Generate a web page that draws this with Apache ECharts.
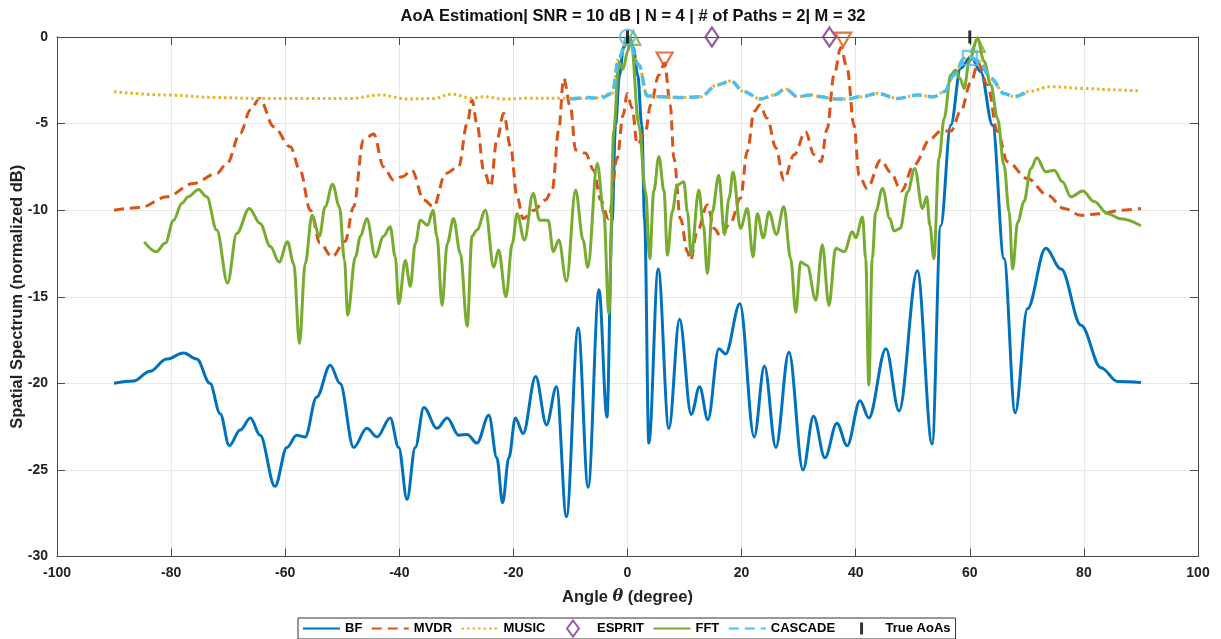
<!DOCTYPE html>
<html>
<head>
<meta charset="utf-8">
<script src="https://cdn.jsdelivr.net/npm/echarts@6/dist/echarts.min.js"></script>
<style>
html,body{margin:0;padding:0;background:#fff;}
#chart{width:1221px;height:639px;}
</style>
</head>
<body>
<div id="chart"></div>
<script>
// ---------- data ----------
const titleText = 'AoA Estimation| SNR = 10 dB | N = 4 | # of Paths = 2| M = 32';
const xTicks = [-100, -80, -60, -40, -20, 0, 20, 40, 60, 80, 100];
const yTicks = [-30, -25, -20, -15, -10, -5, 0];
const legendNames = ['BF', 'MVDR', 'MUSIC', 'ESPRIT', 'FFT', 'CASCADE', 'True AoAs'];

const bfAngle = [-90,-86.6,-83.7,-80.8,-77.8,-75.5,-73.2,-71.4,-69.8,-67.9,-66.1,-64.4,-61.8,-59.7,-58.0,-56.5,-54.5,-52.1,-50.4,-48.0,-45.7,-43.9,-41.6,-40.1,-38.65,-37.2,-35.7,-33.4,-31.6,-29.6,-28.1,-26.4,-24.3,-22.9,-21.9,-20.8,-19.65,-18.3,-16.1,-14.2,-12.45,-10.7,-8.65,-6.9,-5.0,-3.6,-2.7,-2.1,-1.4,-0.7,0.2,1.0,1.8,2.5,3.0,3.74,5.38,7.25,9.12,11.17,12.63,14.1,16.0,17.2,19.7,22.2,24.0,26.0,28.3,30.76,32.6,34.6,36.7,38.5,40.76,42.3,45.3,47.6,50.8,53.4,54.9,56.66,58.4,60.2,61.9,64.0,66.0,67.95,70.1,73.3,76.0,79.5,83.0,85.9,90];
const bfValue = [-20.0,-19.87,-19.3,-18.6,-18.25,-18.6,-20.0,-21.75,-23.6,-22.7,-22.0,-23.0,-25.95,-23.7,-23.0,-23.1,-20.8,-18.96,-20.0,-23.7,-22.6,-23.1,-22.0,-23.7,-26.7,-23.7,-21.4,-22.6,-22.0,-23.0,-22.95,-23.45,-21.85,-24.3,-26.9,-24.3,-22.0,-22.9,-19.6,-22.4,-20.2,-27.7,-16.8,-26.0,-14.6,-21.95,-10.6,-5.1,-2.2,-0.6,0,-0.6,-2.2,-5.1,-10.6,-23.45,-13.4,-22.6,-16.3,-21.8,-20.2,-22.1,-18.0,-18.3,-15.4,-23.1,-19.0,-23.7,-18.2,-25.0,-21.9,-24.3,-22.3,-23.6,-21.0,-22.0,-18.0,-21.6,-13.5,-23.5,-10.9,-5.1,-1.8,-1.14,-2.0,-5.1,-12.8,-21.7,-15.7,-12.2,-13.4,-16.65,-19.1,-19.9,-19.95];

const mvdrAngle = [-90,-85.4,-80.8,-76.1,-72.0,-70.2,-67.9,-66.1,-64.5,-62.0,-59.1,-57.4,-55.6,-53.9,-51.8,-49.5,-48.0,-46.3,-44.5,-42.75,-41.0,-39.5,-37.8,-35.7,-34.0,-31.9,-29.6,-28.1,-27.25,-26.4,-25.2,-24.0,-22.9,-21.7,-20.5,-19.35,-18.3,-16.4,-14.4,-13.2,-12.05,-11.2,-10.0,-9.1,-7.4,-5.9,-4.74,-3.3,-1.82,-0.76,-0.06,0.81,1.7,3.15,4.03,5.5,6.5,7.5,8.13,9.3,10.5,11.05,12.2,14.0,15.2,16.3,18.1,19.8,21.0,22.2,23.2,24.5,26.0,27.4,29.2,31.2,32.7,33.9,35.0,36.2,37.4,38.5,39.7,40.6,42.0,44.4,46.1,48.0,50.2,53.15,54.9,56.7,58.4,60.2,61.45,63.1,64.85,66.6,70.1,73.6,76.5,79.5,83.0,86.5,90];
const mvdrValue = [-10.0,-9.85,-9.23,-8.46,-7.88,-7.3,-5.57,-4.22,-3.55,-5.18,-6.34,-7.7,-10.0,-11.9,-12.7,-11.8,-9.8,-5.95,-5.6,-7.5,-8.27,-8.07,-7.69,-9.42,-9.8,-7.88,-7.5,-4.99,-3.64,-4.99,-7.69,-8.65,-5.95,-4.41,-6.34,-9.23,-10.48,-10.0,-9.42,-8.84,-5.37,-2.39,-4.03,-6.53,-6.7,-7.7,-9.4,-10.5,-7.0,-4.5,-3.26,-4.1,-6.2,-5.5,-3.93,-2.2,-1.5,-3.93,-7.0,-10.5,-12.4,-12.9,-11.25,-9.7,-11.06,-11.5,-10.7,-9.3,-6.6,-4.3,-3.93,-4.7,-6.4,-8.27,-6.8,-5.47,-6.8,-7.2,-5.3,-2.2,-0.6,-1.81,-5.1,-8.0,-8.75,-7.1,-7.8,-8.9,-7.4,-5.86,-5.43,-5.43,-4.3,-2.6,-1.5,-2.77,-5.47,-7.2,-8.17,-9.13,-9.9,-10.3,-10.2,-10.0,-9.9];

const musicAngle = [-90,-80.8,-72,-64.4,-56,-48.6,-43.3,-38.6,-34,-30.8,-27.25,-25.2,-21.7,-17.6,-10.6,-5.9,-2.7,-1.5,0,1.98,3.45,5.8,9.3,12.8,15.7,18.1,20.4,23.3,25.7,27.7,29.8,32.1,33.9,36.2,38.5,40.9,43.8,47.3,50.8,53.7,55.5,57.25,59.0,60.0,61.6,63.7,66.0,67.8,70.1,74.2,80.05,85,90];
const musicValue = [-3.16,-3.35,-3.5,-3.55,-3.55,-3.55,-3.35,-3.58,-3.55,-3.3,-3.54,-3.45,-3.58,-3.54,-3.54,-3.54,-3.26,-1.2,0,-1.6,-3.4,-3.45,-3.5,-3.45,-2.77,-2.54,-3.16,-3.58,-3.35,-3.0,-3.45,-3.35,-3.45,-3.58,-3.58,-3.45,-3.26,-3.55,-3.35,-3.45,-3.16,-2.2,-1.23,-1.15,-1.4,-2.39,-3.26,-3.45,-3.16,-2.87,-2.97,-3.05,-3.12];

const cascadeAngle = [-10,-7,-4.7,-2.7,-1.5,0,1.98,3.45,5.8,9.3,12.8,15.7,18.1,20.4,23.3,25.7,27.7,29.8,32.1,33.9,36.2,38.5,40.9,43.8,47.3,50.8,53.7,55.5,57.25,59.0,60.0,61.6,63.7,66.0,67.8,70.1];
const cascadeValue = [-3.58,-3.5,-3.54,-3.26,-1.2,0,-1.6,-3.4,-3.45,-3.5,-3.45,-2.77,-2.54,-3.16,-3.58,-3.35,-3.0,-3.45,-3.35,-3.45,-3.58,-3.58,-3.45,-3.26,-3.55,-3.35,-3.45,-3.16,-2.2,-1.23,-1.15,-1.4,-2.39,-3.26,-3.45,-3.16];

const fftAngle = [-84.7,-82.6,-81.0,-79.6,-78.1,-77.0,-75.2,-73.75,-72.0,-70.1,-68.5,-66.3,-64.4,-62.6,-61.06,-59.6,-58.5,-57.5,-56.5,-55.3,-54.0,-53.0,-51.7,-50.5,-49.6,-49.06,-47.7,-46.8,-45.7,-44.2,-42.75,-41.6,-40.7,-40.1,-38.95,-38.07,-37.2,-36.3,-35.03,-34.1,-33.4,-32.5,-31.6,-30.5,-29.3,-28.1,-27.25,-26.4,-24.9,-23.45,-22.6,-21.3,-20.2,-19.35,-18.07,-16.55,-15.4,-13.9,-13.0,-12.05,-10.7,-9.1,-7.78,-6.96,-5.3,-4.15,-3.27,-2.4,-1.52,-0.76,0.0,0.6,1.99,3.16,3.9,4.6,5.5,6.4,7.0,7.84,8.71,9.88,10.5,11.17,12.5,13.3,14.0,14.85,16.0,17.0,17.8,18.5,19.8,21.0,22.0,22.75,23.8,24.8,26.1,27.4,28.6,29.5,30.35,31.5,33.0,34.15,35.3,36.5,38.0,39.4,40.0,41.2,41.75,42.3,42.9,43.5,44.7,46.0,46.7,47.8,49.1,50.35,51.7,52.45,53.0,53.7,54.6,55.5,56.66,57.5,58.3,59.0,59.9,61.35,62.5,63.7,64.85,66.0,66.9,67.5,68.4,69.5,70.7,71.75,73.3,74.8,76.25,77.7,79.8,81.8,84.15,86.5,90];
const fftValue = [-11.83,-12.4,-11.9,-10.6,-9.6,-9.23,-8.8,-9.23,-11.15,-14.2,-11.35,-9.9,-10.77,-12.1,-13.0,-11.83,-13.1,-17.7,-13.1,-10.3,-11.5,-9.8,-8.5,-9.8,-12.9,-16.07,-12.7,-11.5,-10.48,-12.7,-11.5,-10.96,-12.7,-15.4,-12.9,-14.4,-11.93,-10.58,-10.87,-10.0,-11.5,-15.5,-11.93,-10.48,-12.5,-16.7,-11.5,-11.15,-10.0,-13.3,-12.3,-15.0,-11.93,-10.2,-11.73,-9.04,-10.58,-10.58,-12.4,-11.73,-14.1,-8.84,-11.73,-13.3,-7.3,-10.2,-15.97,-5.37,-1.45,-1.85,-0.85,-0.1,-5.1,-8.9,-12.8,-8.9,-6.9,-8.9,-12.6,-10.1,-8.55,-8.36,-10.1,-12.6,-8.84,-10.87,-13.66,-10.1,-7.98,-11.4,-9.3,-7.8,-11.06,-9.9,-12.7,-10.2,-11.6,-10.1,-11.4,-9.8,-12.8,-15.9,-13.0,-13.2,-15.2,-12.0,-15.5,-12.2,-12.4,-11.25,-11.6,-10.4,-12.8,-20.1,-12.8,-10.1,-8.75,-10.5,-11.2,-11.06,-8.94,-7.6,-9.9,-9.23,-10.87,-12.8,-7.0,-4.7,-2.2,-1.9,-2.39,-2.97,-1.4,-0.1,-1.4,-2.77,-4.7,-7.4,-10.1,-13.4,-10.7,-9.5,-7.6,-6.97,-7.78,-7.7,-8.36,-9.23,-8.9,-9.5,-10.2,-10.5,-10.9];

const espritAngle = [14.8, 35.4];
const espritValue = [0, 0];
const mvdrPeakAngle = [6.5, 37.8];
const mvdrPeakValue = [-1.3, -0.15];
const fftPeakAngle = [1.0, 61.4];
const fftPeakValue = [-0.05, -0.45];
const cascadePeakAngle = [0, 60];
const cascadePeakValue = [0, -1.2];
const trueAngle = [0, 60];
const trueValue = [0, 0];

// ---------- chart ----------
const zip = (a, b) => a.map((x, i) => [x, b[i]]);
const FONT = 'Liberation Sans, Arial, sans-serif';
const AX = '#4a4a4a';

const chart = echarts.init(document.getElementById('chart'), null, {renderer: 'canvas'});

const lineSeries = (name, xs, ys, color, type, width) => ({
  name, type: 'line', data: zip(xs, ys), symbol: 'none', smooth: 0.35,
  smoothMonotone: 'x',
  lineStyle: {color, width, type, cap: 'butt'}, itemStyle: {color},
  animation: false, clip: true
});

const markerSeries = (name, xs, ys, color, symbol, size, rotate, extra) => ({
  name, type: 'scatter', data: zip(xs, ys), symbol, symbolSize: size,
  symbolRotate: rotate || 0, clip: false, z: 5,
  itemStyle: Object.assign({color: 'rgba(0,0,0,0)', borderColor: color, borderWidth: 2.2}, extra || {}),
  animation: false
});

const cascadeMarks = markerSeries('CASCADE peaks', cascadePeakAngle, cascadePeakValue, '#4DBEEE', 'circle', 14);
cascadeMarks.data = cascadeMarks.data.map((d, i) => ({value: d, symbol: i === 0 ? 'circle' : 'rect', symbolSize: i === 0 ? 15 : 14}));

const hideSym = {opacity: 0};
const option = {
  backgroundColor: '#fff',
  animation: false,
  title: {
    text: titleText, left: 628, top: 3, textAlign: 'center',
    textStyle: {fontFamily: FONT, fontWeight: 'bold', fontSize: 16.5, color: '#111'}
  },
  grid: {left: 57, right: 23, top: 37, bottom: 82.5, containLabel: false, outerBoundsMode: 'none'},
  legend: {
    data: [
      {name: legendNames[0], itemStyle: hideSym},
      {name: legendNames[1], itemStyle: hideSym},
      {name: legendNames[2], itemStyle: hideSym},
      {name: legendNames[3], icon: 'path://M0,0M37,17M18,0.5L24,8.5L18,16.5L12,8.5Z'},
      {name: legendNames[4], itemStyle: hideSym},
      {name: legendNames[5], itemStyle: hideSym},
      {name: legendNames[6], icon: 'path://M0,0M37,17M16.5,2.5H19.5V14.5H16.5Z'}
    ],
    left: 298, top: 618, orient: 'horizontal',
    itemWidth: 37, itemHeight: 17, itemGap: 8.5,
    padding: [1, 5, 1, 4],
    borderColor: '#333', borderWidth: 1, backgroundColor: '#fff',
    textStyle: {fontFamily: FONT, fontWeight: 'bold', fontSize: 13, color: '#000'}
  },
  xAxis: [{
    type: 'value', min: xTicks[0], max: xTicks[xTicks.length - 1], interval: 20, position: 'bottom',
    name: 'Angle {i|θ} (degree)', nameLocation: 'middle', nameGap: 32,
    nameTextStyle: {fontFamily: FONT, fontWeight: 'bold', fontSize: 16.5, color: '#222',
      rich: {i: {fontFamily: 'DejaVu Serif, serif', fontStyle: 'italic', fontSize: 16, color: '#222'}}},
    axisLine: {show: true, onZero: false, lineStyle: {color: AX, width: 1}},
    axisTick: {show: true, inside: true, length: 8, lineStyle: {color: AX}},
    axisLabel: {fontFamily: FONT, fontWeight: 'bold', fontSize: 14, color: '#222', margin: 10},
    splitLine: {show: true, lineStyle: {color: '#e8e8e8', width: 1}}
  }, {
    type: 'value', min: xTicks[0], max: xTicks[xTicks.length - 1], interval: 20, position: 'top',
    axisLine: {show: true, onZero: false, lineStyle: {color: AX, width: 1}},
    axisTick: {show: true, inside: true, length: 8, lineStyle: {color: AX}},
    axisLabel: {show: false}, splitLine: {show: false}
  }],
  yAxis: [{
    type: 'value', min: yTicks[0], max: yTicks[yTicks.length - 1], interval: 5, position: 'left',
    name: 'Spatial Spectrum (normalized dB)', nameLocation: 'middle', nameGap: 31,
    nameMoveOverlap: false,
    nameTextStyle: {fontFamily: FONT, fontWeight: 'bold', fontSize: 16.5, color: '#222'},
    axisLine: {show: true, onZero: false, lineStyle: {color: AX, width: 1}},
    axisTick: {show: true, inside: true, length: 8, lineStyle: {color: AX}},
    axisLabel: {fontFamily: FONT, fontWeight: 'bold', fontSize: 14, color: '#222', margin: 9},
    splitLine: {show: true, lineStyle: {color: '#e8e8e8', width: 1}}
  }, {
    type: 'value', min: yTicks[0], max: yTicks[yTicks.length - 1], interval: 5, position: 'right',
    axisLine: {show: true, onZero: false, lineStyle: {color: AX, width: 1}},
    axisTick: {show: true, inside: true, length: 8, lineStyle: {color: AX}},
    axisLabel: {show: false}, splitLine: {show: false}
  }],
  series: [
    lineSeries('BF', bfAngle, bfValue, '#0072BD', 'solid', 3),
    lineSeries('MVDR', mvdrAngle, mvdrValue, '#D95319', [10, 6], 3),
    lineSeries('MUSIC', musicAngle, musicValue, '#EDB120', [2.5, 3], 3),
    markerSeries('ESPRIT', espritAngle, espritValue, '#7E2F8E', 'diamond', [13, 19]),
    lineSeries('FFT', fftAngle, fftValue, '#77AC30', 'solid', 3),
    lineSeries('CASCADE', cascadeAngle, cascadeValue, '#4DBEEE', [10, 6], 3.5),
    markerSeries('MVDR peaks', mvdrPeakAngle, mvdrPeakValue, '#D95319', 'triangle', [16, 14], 180),
    markerSeries('FFT peaks', fftPeakAngle, fftPeakValue, '#77AC30', 'triangle', [14, 14], 0),
    cascadeMarks,
    markerSeries('True AoAs', trueAngle, trueValue, '#000', 'rect', [3, 13], 0, {color: '#000', borderWidth: 0})
  ]
};

chart.setOption(option);
</script>
</body>
</html>
